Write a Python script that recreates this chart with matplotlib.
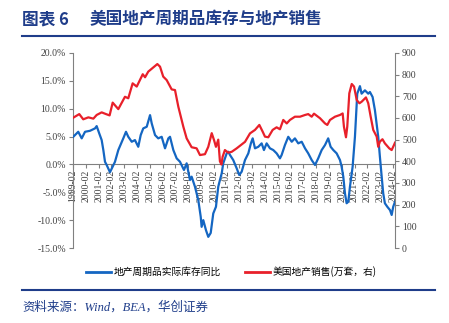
import numpy as np
import matplotlib
matplotlib.use("Agg")
import matplotlib.pyplot as plt
from matplotlib.lines import Line2D

# data (decimal year, value)
inv_t = [1999.10, 1999.49, 1999.76, 2000.02, 2000.41, 2000.80, 2000.93, 2001.13, 2001.32, 2001.45,
         2001.58, 2001.71, 2001.97, 2002.18, 2002.36, 2002.62, 2003.01, 2003.22, 2003.40, 2003.67,
         2003.92, 2004.18, 2004.37, 2004.57, 2004.84, 2005.10, 2005.23, 2005.49, 2005.74, 2006.01,
         2006.27, 2006.53, 2006.66, 2006.92, 2007.18, 2007.44, 2007.75, 2007.96, 2008.22, 2008.35,
         2008.61, 2008.87, 2009.06, 2009.13, 2009.26, 2009.47, 2009.65, 2009.84, 2010.04, 2010.25,
         2010.43, 2010.56, 2010.70, 2010.82, 2011.09, 2011.21, 2011.35, 2011.60, 2011.87, 2012.07,
         2012.26, 2012.52, 2012.78, 2012.98, 2013.12, 2013.30, 2013.56, 2013.82, 2014.00, 2014.21,
         2014.47, 2014.73, 2014.99, 2015.25, 2015.38, 2015.64, 2015.90, 2016.17, 2016.42, 2016.68,
         2016.95, 2017.21, 2017.46, 2017.73, 2017.99, 2018.24, 2018.51, 2018.77, 2019.02, 2019.21,
         2019.42, 2019.68, 2019.94, 2020.07, 2020.20, 2020.33, 2020.46, 2020.59, 2020.72, 2020.93,
         2021.11, 2021.29, 2021.50, 2021.63, 2021.76, 2021.89, 2022.15, 2022.28, 2022.49, 2022.67,
         2022.93, 2023.06, 2023.20, 2023.32, 2023.45, 2023.64, 2023.85, 2023.98, 2024.10, 2024.24]
inv_yoy = [4.96, 5.86, 4.68, 5.86, 6.04, 6.47, 6.88, 5.57, 4.37, 2.58,
           0.48, -0.10, -1.40, -0.40, 0.48, 2.58, 4.68, 5.86, 4.96, 4.07,
           4.37, 3.17, 5.27, 6.47, 6.76, 8.85, 7.37, 5.27, 4.68, 4.96,
           2.89, 4.68, 4.96, 2.58, 1.09, 0.48, -1.00, 0.20, -2.80, -2.20,
           -4.00, -6.40, -9.40, -11.20, -10.00, -11.80, -13.00, -12.30, -8.80, -7.60,
           -4.00, -2.80, -1.60, 0.20, 1.99, 2.28, 1.68, 0.79, -0.70, -1.90,
           -1.30, 0.79, 1.99, 3.78, 4.68, 2.89, 3.17, 3.78, 2.58, 3.78,
           2.89, 2.58, 1.99, 1.09, 1.68, 3.48, 4.96, 4.07, 4.68, 3.78,
           4.07, 2.89, 1.99, 0.79, -0.10, 1.09, 2.58, 3.48, 4.68, 3.17,
           2.58, 1.99, 0.79, -0.40, -2.20, -5.20, -6.97, -6.70, -4.00, -0.40,
           4.96, 12.70, 14.05, 12.70, 13.00, 13.30, 12.70, 13.00, 12.10, 9.75,
           4.96, 1.38, -2.20, -5.20, -6.97, -7.60, -8.20, -9.07, -7.60, -6.70]

sales_t = [1999.06, 1999.57, 1999.88, 2000.28, 2000.67, 2000.93, 2001.32, 2001.66, 2001.94, 2002.18,
           2002.62, 2003.14, 2003.40, 2003.74, 2004.06, 2004.53, 2004.71, 2004.96, 2005.67, 2005.88,
           2006.13, 2006.40, 2006.79, 2007.05, 2007.31, 2007.70, 2007.96, 2008.35, 2008.74, 2009.00,
           2009.39, 2009.65, 2009.92, 2010.10, 2010.25, 2010.43, 2010.56, 2010.68, 2010.77, 2010.95,
           2011.21, 2011.48, 2011.87, 2012.26, 2012.52, 2012.91, 2013.30, 2013.64, 2013.90, 2014.08,
           2014.34, 2014.68, 2014.99, 2015.25, 2015.51, 2015.78, 2016.03, 2016.42, 2016.82, 2017.21,
           2017.46, 2017.73, 2017.91, 2018.38, 2018.77, 2018.95, 2019.16, 2019.55, 2019.94, 2020.15,
           2020.25, 2020.41, 2020.51, 2020.67, 2020.86, 2021.04, 2021.25, 2021.46, 2021.63, 2021.97,
           2022.15, 2022.34, 2022.54, 2022.81, 2022.93, 2023.06, 2023.26, 2023.45, 2023.79, 2023.98,
           2024.16, 2024.24]
sales = [600, 618, 594, 603, 597, 614, 626, 618, 612, 671,
         641, 698, 691, 760, 745, 802, 788, 814, 849, 837,
         791, 775, 732, 729, 652, 560, 506, 465, 460, 429,
         433, 467, 530, 498, 467, 500, 400, 385, 421, 452,
         440, 444, 460, 478, 490, 529, 545, 568, 537, 514,
         511, 545, 557, 548, 591, 575, 591, 606, 606, 614,
         618, 606, 620, 599, 575, 568, 591, 606, 614, 621,
         560, 511, 560, 714, 757, 745, 683, 668, 675, 695,
         668, 606, 545, 514, 467, 491, 502, 483, 460, 452,
         475, 486]

years = list(range(1999, 2025))
year_labels = [f"{y}-02" for y in years]
left_ticks = [-15, -10, -5, 0, 5, 10, 15, 20]
right_ticks = list(range(0, 1000, 100))

serif = ["Liberation Serif", "Noto Sans CJK SC"]
cjk = ["Noto Sans CJK SC", "DejaVu Sans"]
blue = "#1466C2"
red = "#E8202A"
navy = "#1F3D8A"
grey_txt = "#404040"

fig = plt.figure(figsize=(4.49, 3.23), dpi=100)
W, H = 449, 323
ax = fig.add_axes([73 / W, 1 - 248 / H, (395 - 73) / W, (248 - 53) / H])
ax2 = ax.twinx()

# spine positions first: set_position resets the ticks
ax.spines["bottom"].set_position(("data", 0))
for a in (ax, ax2):
    a.spines["top"].set_visible(False)
    for s in ("left", "right", "bottom"):
        a.spines[s].set_color("#808080")
ax.spines["right"].set_visible(False)
ax2.spines["left"].set_visible(False)
ax2.spines["bottom"].set_visible(False)

ax.plot(inv_t, inv_yoy, color=blue, lw=1.6, zorder=3)
ax2.plot(sales_t, sales, color=red, lw=1.6)

ax.set_xlim(1999.08, 2024.24)
ax.set_ylim(-15, 20)
ax2.set_ylim(0, 900)

ax.set_yticks(left_ticks)
ax.set_yticklabels([f"{v:.1f}%" for v in left_ticks], family=serif, fontsize=7, color=grey_txt)
ax2.set_yticks(right_ticks)
ax2.set_yticklabels([str(v) for v in right_ticks], family=serif, fontsize=7, color=grey_txt)

ax.set_xticks([y + 1 / 12 for y in years])
ax.set_xticklabels(year_labels, rotation=90, family=serif, fontsize=7, color=grey_txt)
ax.set_axisbelow(True)

ax.tick_params(axis="y", length=3, width=0.8, color="#808080", pad=2)
ax2.tick_params(axis="y", length=3, width=0.8, color="#808080", pad=2)
ax.tick_params(axis="x", length=3, width=0.8, color="#808080", pad=1)

# legend
handles = [Line2D([], [], color=blue, lw=2), Line2D([], [], color=red, lw=2)]
fig.legend(handles, ["地产周期品实际库存同比", "美国地产销售(万套，右)"],
           loc="center", bbox_to_anchor=(0.515, 1 - 272 / H), ncol=2, frameon=False,
           prop={"family": cjk, "size": 7}, handlelength=2.6, columnspacing=2.4,
           handletextpad=0.3)

# title, rules and source
fig.text(22 / W, 1 - 19 / H, "图表 6", family=cjk, fontsize=12, fontweight="bold",
         color=navy, va="center", ha="left")
fig.text(90 / W, 1 - 19 / H, "美国地产周期品库存与地产销售", family=cjk, fontsize=12,
         fontweight="bold", color=navy, va="center", ha="left")
fig.add_artist(Line2D([22 / W, 435 / W], [1 - 36 / H, 1 - 36 / H], color=navy, lw=1.5))
fig.add_artist(Line2D([22 / W, 435 / W], [1 - 290 / H, 1 - 290 / H], color=navy, lw=1.5))
fig.text(22 / W, 1 - 307 / H, "资料来源：Wind，BEA，华创证券", family=serif, style="italic",
         fontsize=9, color=navy, va="center", ha="left")

fig.savefig("out.png", dpi=100)
